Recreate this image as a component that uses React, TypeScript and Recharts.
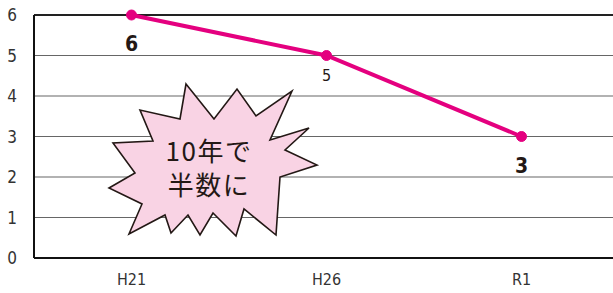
import React from 'react';
import {
  LineChart,
  Line,
  XAxis,
  YAxis,
  CartesianGrid,
  ReferenceLine,
  LabelList,
} from 'recharts';

// era labels and counts
const years = ['H21', 'H26', 'R1'];
const counts = [6, 5, 3];
const yTicks = [0, 1, 2, 3, 4, 5, 6];
const calloutLines = ['10年で', '半数に'];

// which point labels are drawn big/bold (first and last)
const boldLabels = [true, false, true];

const data = years.map((y, i) => ({ year: y, count: counts[i] }));

const W = 619;
const H = 293;
const PINK = '#e4007f';
const INK = '#231815';
const NUM_FONT = '"Liberation Sans Narrow", "DejaVu Sans Condensed", sans-serif';

// starburst outline, in pixels of the chart
const burst = [
  [186, 84], [214, 119], [237, 89], [256, 116], [292, 91], [270, 140],
  [309, 128], [285, 150], [317, 165], [280, 177], [276, 235], [244, 209],
  [236, 236], [213, 213], [200, 235], [188, 215], [171, 233], [165, 215],
  [129, 234], [142, 204], [109, 188], [135, 173], [113, 143], [153, 141],
  [140, 110], [180, 119],
];

const PointLabel = (props: any) => {
  const { x, y, index, value } = props;
  const bold = boldLabels[index];
  return (
    <text
      x={x}
      y={y + (bold ? 29 : 20)}
      textAnchor="middle"
      dominantBaseline="central"
      fontFamily={NUM_FONT}
      fontSize={bold ? 21 : 16}
      fontWeight={bold ? 700 : 400}
      fill={INK}
    >
      {value}
    </text>
  );
};

export default function App() {
  return (
    <div
      style={{
        position: 'absolute',
        left: 0,
        top: 0,
        width: 613,
        height: H,
        overflow: 'hidden',
        background: '#fff',
      }}
    >
      <LineChart
        width={W}
        height={H}
        data={data}
        margin={{ top: 15, right: 0, left: 0, bottom: 0 }}
      >
        <CartesianGrid vertical={false} stroke="#666" strokeWidth={1.2} />
        <ReferenceLine y={6} stroke="#222" strokeWidth={2} />
        <XAxis
          dataKey="year"
          height={35}
          padding={{ left: 97.5, right: 97.5 }}
          axisLine={{ stroke: '#111', strokeWidth: 2 }}
          tickLine={false}
          tickMargin={10}
          tick={{ fontSize: 16, fill: '#333', fontFamily: NUM_FONT }}
        />
        <YAxis
          width={34}
          domain={[0, 6]}
          ticks={yTicks}
          interval={0}
          axisLine={{ stroke: '#111', strokeWidth: 2 }}
          tickLine={false}
          tickMargin={11}
          tick={{ fontSize: 17, fill: '#333', fontFamily: NUM_FONT }}
        />
        <Line
          dataKey="count"
          stroke={PINK}
          strokeWidth={4}
          dot={{ r: 5, fill: PINK, stroke: PINK, strokeWidth: 1 }}
          isAnimationActive={false}
        >
          <LabelList dataKey="count" content={PointLabel} />
        </Line>
      </LineChart>
      <svg
        width={613}
        height={H}
        style={{ position: 'absolute', left: 0, top: 0, pointerEvents: 'none' }}
      >
        <polygon
          points={burst.map(p => p.join(',')).join(' ')}
          fill="#f9d3e4"
          stroke={INK}
          strokeWidth={1.6}
          strokeLinejoin="miter"
        />
        <text
          textAnchor="middle"
          fontFamily='"Noto Sans CJK JP", sans-serif'
          fontSize={26}
          letterSpacing={1.5}
          fill={INK}
        >
          {calloutLines.map((t, i) => (
            <tspan key={t} x={209} y={161 + i * 34}>
              {t}
            </tspan>
          ))}
        </text>
      </svg>
    </div>
  );
}
